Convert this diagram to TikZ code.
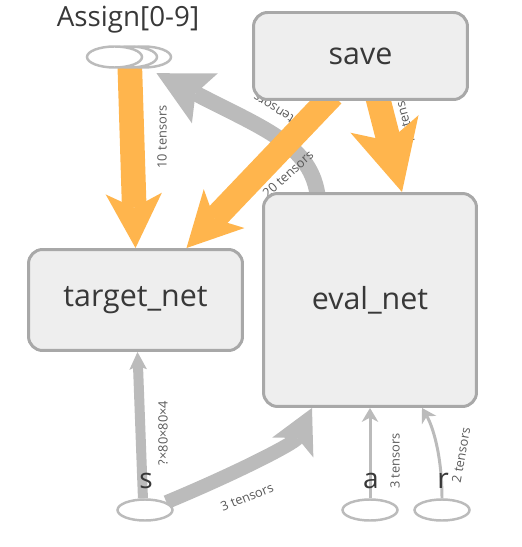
\documentclass[tikz,border=0pt]{standalone}
\usepackage{fontspec}
\setmainfont{Open Sans}
\usetikzlibrary{arrows.meta,shapes.geometric,calc}
\definecolor{boxfill}{HTML}{EEEEEE}
\definecolor{boxline}{HTML}{A8A8A8}
\definecolor{flowor}{HTML}{FFB54D}
\definecolor{flowgr}{HTML}{BBBBBB}
\definecolor{txtdark}{HTML}{383838}
\definecolor{txtlab}{HTML}{5A5A5A}
\pgfdeclarelayer{edges}
\pgfsetlayers{edges,main}

\begin{document}
\begin{tikzpicture}[
					x=0.02cm,y=-0.02cm,
					opbox/.style={rectangle,rounded corners=8pt,draw=boxline,fill=boxfill,line width=1.7pt,text=txtdark,font=\fontsize{17.3}{19}\selectfont},
					opell/.style={ellipse,draw=flowgr,fill=white,line width=1.4pt,minimum width=1.1cm,minimum height=0.42cm,inner sep=0pt},
					oedge/.style={draw=flowor,line width=14pt,-{Stealth[length=31pt,width=32pt,inset=8pt,line width=0pt]}},
					gedge/.style={draw=flowgr},
					elabel/.style={font=\fontsize{7.3}{8}\selectfont,text=txtlab,inner sep=1pt},
					vlabel/.style={font=\fontsize{16}{18}\selectfont,text=txtdark,inner sep=0pt}
					]
					\useasboundingbox (0,0) rectangle (521,547);
					% op nodes
					\node[opbox,minimum width=4.28cm,minimum height=1.74cm] (save) at (360.5,56) {save};
					\node[opbox,minimum width=4.28cm,minimum height=2.02cm] (target) at (135.5,300) {target\_net};
					\node[opbox,minimum width=4.26cm,minimum height=4.26cm] (eval) at (370,300) {eval\_net};
					% Assign stack
					\foreach \k/\dx in {3/29,2/15,1/0}{
						\node[opell] (asg\k) at (114.5+\dx,57) {};
					}
					\node[font=\fontsize{15.8}{18}\selectfont,text=txtdark] (asglab) at (128,20) {Assign[0-9]};
					% inputs
					\foreach \v/\x in {s/145,a/370,r/442}{
						\node[opell] (\v) at (\x,510) {};
						\node[vlabel] (\v lab) at (\x+1,481) {\v};
					}
					\begin{pgfonlayer}{edges}
						% gray edges
						\draw[gedge,line width=9pt,-{Stealth[length=31pt,width=32pt,inset=6pt,line width=0pt]}]
							($(eval.north)+(-52,6)$) .. controls +(-6,-53) and +(108,56) .. ($(asg3.south)+(13,4.5)$);
						\draw[gedge,line width=5.7pt,-{Stealth[length=10pt,width=10pt,inset=2pt,line width=0pt]}]
							(s.100) -- ($(target.south)+(2,0)$);
						\draw[gedge,line width=8pt,-{Stealth[length=25pt,width=26pt,inset=6pt,line width=0pt]}]
							(s.20) .. controls +(72,-30) and +(-17,35) .. ($(eval.south)+(-58,0)$);
						\draw[gedge,line width=1.7pt,-{Stealth[length=8pt,width=9.5pt,inset=2.5pt,line width=0pt]}]
							(a.north) -- (eval.south);
						\draw[gedge,line width=1.7pt,-{Stealth[length=8pt,width=9.5pt,inset=2.5pt,line width=0pt]}]
							(r.north) .. controls +(0,-45) and +(10,17) .. ($(eval.south)+(52,0)$);
						\node[elabel,rotate=148] (lbback) at (281,113) {10 tensors};
						\node[elabel,rotate=90] (lbs) at (163,433) {?×80×80×4};
						\node[elabel,rotate=22] (lbseval) at (247,497) {3 tensors};
						\node[elabel,rotate=90] (lba) at (395,461) {3 tensors};
						\node[elabel,rotate=80] (lbr) at (461,455) {2 tensors};
						\node[elabel,rotate=105] (lbsaveeval) at (403,114) {10 tensors};
						% orange edges
						\draw[oedge] (asg2.center) -- (target.north);
						\draw[oedge] ($(save.south)+(-28,-6)$) -- ($(target.north)+(51,0)$);
						\draw[oedge,-{Stealth[length=40pt,width=40pt,inset=10pt,line width=0pt]}]
							($(save.south)+(16,-8)$) -- ($(eval.north)+(32,0)$);
						\node[elabel,rotate=90] (lbasg) at (162,137) {10 tensors};
						\node[elabel,rotate=42] (lbsavetgt) at (288,174) {20 tensors};
					\end{pgfonlayer}
				\end{tikzpicture}
\end{document}
